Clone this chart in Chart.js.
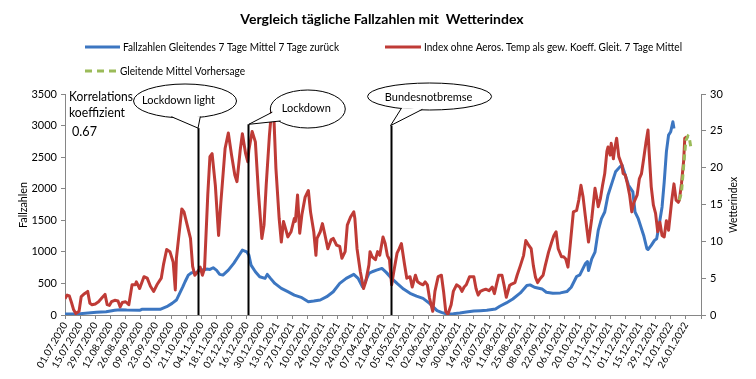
<!DOCTYPE html>
<html><head><meta charset="utf-8">
<script src="https://cdn.jsdelivr.net/npm/chart.js@4.4.1/dist/chart.umd.min.js"></script>
<style>html,body{margin:0;padding:0;background:#fff}#wrap{width:756px;height:379px;position:relative}</style>
</head><body><div id="wrap"><canvas id="c"></canvas></div>
<script>
const chartTitle = 'Vergleich tägliche Fallzahlen mit  Wetterindex';
const seriesNames = ['Fallzahlen Gleitendes 7 Tage Mittel 7 Tage zurück', 'Index ohne Aeros. Temp als gew. Koeff. Gleit. 7 Tage Mittel', 'Gleitende Mittel Vorhersage'];
const tickLabels = ['01.07.2020','15.07.2020','29.07.2020','12.08.2020','26.08.2020','09.09.2020','23.09.2020','07.10.2020','21.10.2020','04.11.2020','18.11.2020','02.12.2020','16.12.2020','30.12.2020','13.01.2021','27.01.2021','10.02.2021','24.02.2021','10.03.2021','24.03.2021','07.04.2021','21.04.2021','05.05.2021','19.05.2021','02.06.2021','16.06.2021','30.06.2021','14.07.2021','28.07.2021','11.08.2021','25.08.2021','08.09.2021','22.09.2021','06.10.2021','20.10.2021','03.11.2021','17.11.2021','01.12.2021','15.12.2021','29.12.2021','12.01.2022','26.01.2022'];
const totalDays = 588;

// Blue: Fallzahlen (left axis), x = days since 01.07.2020
const caseDays = [0,14,29,38,46,51,57,69,71,88,94,99,103,106,109,111,114,117,122,125,128,131,134,137,140,143,146,151,156,160,164,168,170,172,176,180,185,187,190,194,200,206,212,219,225,230,236,242,248,254,260,267,271,275,277,281,284,288,293,297,302,307,313,319,325,331,337,344,348,353,359,365,371,378,384,390,398,402,408,414,421,427,430,434,441,445,451,458,464,468,473,476,481,483,484,487,490,493,496,499,502,506,509,513,515,518,521,525,527,530,535,538,539,542,545,547,549,552,554,556,558,560,562,563];
const caseValues = [16,21,42,53,74,84,79,74,90,90,132,184,237,343,448,527,632,669,675,727,711,727,722,748,711,643,632,711,817,922,1028,1001,949,790,685,606,580,643,580,500,421,369,316,274,211,221,237,290,369,500,580,643,580,448,500,659,685,711,738,675,580,500,411,343,300,264,184,69,42,16,21,32,47,63,69,74,95,138,191,254,350,466,477,440,413,360,344,350,371,440,609,636,810,847,704,890,996,1340,1525,1631,1896,2108,2267,2346,2373,2214,2055,1949,1631,1525,1260,1049,1038,1102,1181,1207,1393,1711,2108,2584,2849,2902,3061,2955];

// Red: Wetterindex (right axis)
const indexDays = [0,2,4,6,8,10,13,15,18,21,23,25,28,31,34,37,39,41,43,46,49,51,53,56,59,62,65,66,69,73,76,79,82,85,89,91,94,97,100,102,103,105,108,110,113,116,118,120,123,125,127,129,132,134,136,139,142,144,148,151,154,157,159,162,164,167,169,170,173,176,179,182,184,186,189,191,193,195,198,200,202,204,206,209,212,213,215,217,219,222,225,227,230,232,233,236,238,240,243,246,248,251,254,256,259,261,264,267,268,270,273,276,278,281,282,284,287,289,291,294,296,298,300,302,304,307,309,311,314,316,319,321,324,326,328,331,333,335,337,340,342,345,348,350,352,354,357,359,362,365,367,369,371,374,378,380,382,384,387,389,392,395,397,399,401,404,406,408,411,413,416,418,421,424,426,429,431,433,435,437,439,442,444,446,447,450,452,454,456,459,461,463,465,467,470,473,475,477,479,481,484,487,490,492,493,495,497,499,501,502,504,505,507,508,510,512,515,516,518,520,522,524,526,529,531,533,535,537,539,540,542,544,546,548,550,552,554,556,558,561,563,565,567,568,570,572,573,575];
const indexValues = [2.2,2.7,2.6,1.7,0.7,0.2,0.5,2.5,2.9,3.2,1.6,1.4,1.5,1.8,2.3,2.8,1.4,1.3,1.8,2.0,1.9,1.1,1.7,1.8,1.4,4.1,4.1,4.5,3.6,5.2,5.0,3.9,3.2,4.1,5.0,6.8,8.9,8.6,7.2,3.4,7.7,10.4,14.4,14.0,12.2,10.4,6.6,5.4,5.9,6.5,5.4,6.3,16.3,21.5,21.9,17.6,10.8,15.1,22.6,24.7,21.7,19.0,18.1,22.4,24.6,21.9,20.8,22.4,24.9,23.5,16.3,10.4,12.2,17.6,24.4,27.8,27.3,19.9,13.1,9.9,12.7,11.7,10.6,11.3,13.1,12.7,16.3,11.1,13.6,16.0,16.9,14.0,11.3,8.1,10.4,11.3,12.4,11.1,9.0,10.2,10.4,9.5,9.3,7.7,8.6,12.2,13.3,14.0,13.1,9.0,5.9,3.6,4.5,6.8,8.6,7.9,7.5,8.6,8.1,10.6,9.7,8.1,7.5,4.1,5.9,8.4,9.0,9.7,6.8,5.0,5.2,3.8,5.4,4.5,4.3,4.1,4.5,4.1,2.3,0.5,3.2,5.2,5.4,3.2,0.5,0.1,1.4,3.2,4.1,3.8,3.2,3.8,4.1,5.2,5.2,3.6,2.7,3.2,3.4,3.5,3.3,3.8,2.9,4.2,5.4,5.4,4.0,2.4,4.0,4.2,4.4,5.4,6.7,8.1,10.1,9.4,9.0,6.7,5.1,4.4,4.9,5.4,6.7,7.9,8.5,9.9,10.8,11.3,9.0,7.9,7.9,7.6,6.5,9.4,14.0,14.2,15.6,17.6,16.0,13.5,9.9,13.1,17.2,15.6,14.7,15.8,17.6,19.2,22.2,22.8,21.7,23.3,21.2,22.4,24.0,21.5,20.3,19.2,19.0,17.8,16.3,14.0,15.3,16.3,18.5,19.2,21.2,23.3,25.1,22.2,17.4,14.9,13.8,11.3,12.6,10.8,10.6,12.8,11.5,15.6,17.8,15.6,15.3,15.6,17.9,21.0,24.0,24.2];

// Green dashed: forecast (right axis)
const forecastDays = [568,570,572,574,576,577,579];
const forecastValues = [15.6,16.7,20.3,23.7,24.3,24.2,22.4];

// Event markers
const eventNames = ['Lockdown light','Lockdown','Bundesnotbremse'];
const eventDays = [123,169,301];
const eventTops = [2960,3020,3000];
const correlationLabel = ['Korrelations','koeffizient'];
const correlationValue = '0.67';

const BLUE = '#3C76C1', RED = '#BF3B36', GREEN = '#9BBB59', AXIS = '#868686';
Chart.defaults.font.family = 'Lato, "Open Sans", sans-serif';
Chart.defaults.color = '#000';

const toPts = (xs, ys) => xs.map((d, i) => ({x: d, y: ys[i]}));

const annot = {
  id: 'annot',
  afterDatasetsDraw(chart) {
    const {ctx, chartArea, scales: {x, y}} = chart;
    ctx.save();
    // event lines
    ctx.strokeStyle = '#000'; ctx.lineWidth = 2;
    eventDays.forEach((d, i) => {
      const px = Math.round(x.getPixelForValue(d)) + 0.5;
      ctx.beginPath(); ctx.moveTo(px, y.getPixelForValue(eventTops[i])); ctx.lineTo(px, chartArea.bottom); ctx.stroke();
    });
    // callouts
    const callout = (cx, cy, rx, ry, a1, a2, tip, text, tx, ty) => {
      const p = a => ({x: cx + rx * 0.96 * Math.cos(a * Math.PI / 180), y: cy + ry * 0.96 * Math.sin(a * Math.PI / 180)});
      const b1 = p(a1), b2 = p(a2);
      ctx.lineWidth = 1; ctx.strokeStyle = '#000'; ctx.fillStyle = '#fff';
      ctx.beginPath(); ctx.ellipse(cx, cy, rx, ry, 0, 0, Math.PI * 2); ctx.fill(); ctx.stroke();
      ctx.beginPath(); ctx.moveTo(b1.x, b1.y); ctx.lineTo(tip.x, tip.y); ctx.lineTo(b2.x, b2.y); ctx.closePath(); ctx.fill();
      ctx.beginPath(); ctx.moveTo(b1.x, b1.y); ctx.lineTo(tip.x, tip.y); ctx.lineTo(b2.x, b2.y); ctx.stroke();
      ctx.fillStyle = '#000'; ctx.font = '11px Lato'; ctx.textAlign = 'center'; ctx.textBaseline = 'middle';
      ctx.fillText(text, tx, ty);
    };
    const e = eventDays.map(d => x.getPixelForValue(d));
    const t = eventTops.map(v => y.getPixelForValue(v));
    callout(e[0] - 13, 101, 51.5, 17, 106, 72, {x: e[0], y: t[0]}, eventNames[0], e[0] - 19.5, 100.5);
    callout(e[1] + 60, 109, 37.5, 19, 170, 139, {x: e[1] + 1, y: t[1]}, eventNames[1], e[1] + 58.5, 108);
    callout(e[2] + 39, 96.5, 62, 13.5, 118, 97, {x: e[2], y: t[2]}, eventNames[2], e[2] + 38, 97);
    // correlation text
    ctx.fillStyle = '#000'; ctx.textAlign = 'left'; ctx.textBaseline = 'middle';
    ctx.font = '13px Lato';
    ctx.fillText(correlationLabel[0], chartArea.left + 4, 97, 64);
    ctx.fillText(correlationLabel[1], chartArea.left + 4, 113, 56);
    ctx.font = '14px Lato';
    ctx.fillText(correlationValue, chartArea.left + 7, 131, 25);
    ctx.restore();
  },
  afterDraw(chart) {
    const {ctx} = chart;
    ctx.save();
    ctx.fillStyle = '#000'; ctx.textBaseline = 'middle';
    ctx.font = 'bold 14px Lato'; ctx.textAlign = 'center';
    ctx.fillText(chartTitle, 382, 19, 308);
    // legend
    ctx.lineWidth = 3; ctx.lineCap = 'butt';
    const item = (x0, x1, yy, col, dash, text, tw) => {
      ctx.strokeStyle = col; ctx.setLineDash(dash);
      ctx.beginPath(); ctx.moveTo(x0, yy); ctx.lineTo(x1, yy); ctx.stroke();
      ctx.setLineDash([]);
      ctx.font = '11px Lato'; ctx.textAlign = 'left'; ctx.fillStyle = '#000';
      ctx.fillText(text, x1 + 3, yy, tw);
    };
    item(85, 120, 47, BLUE, [], seriesNames[0], 216);
    item(385, 421, 47, RED, [], seriesNames[1], 258);
    item(85, 117, 71, GREEN, [7, 5], seriesNames[2], 125);
    // axis titles
    ctx.font = '12px Lato'; ctx.textAlign = 'center';
    ctx.save(); ctx.translate(23, 205); ctx.rotate(-Math.PI / 2); ctx.fillText('Fallzahlen', 0, 0, 46); ctx.restore();
    ctx.save(); ctx.translate(733, 205); ctx.rotate(-Math.PI / 2); ctx.fillText('Wetterindex', 0, 0, 56); ctx.restore();
    ctx.restore();
  }
};

new Chart(document.getElementById('c'), {
  type: 'line',
  data: {
    datasets: [
      {label: seriesNames[2], data: toPts(forecastDays, forecastValues), yAxisID: 'y1', borderColor: GREEN, borderWidth: 3, borderDash: [6, 4], pointRadius: 0, tension: 0, order: 1},
      {label: seriesNames[1], data: toPts(indexDays, indexValues), yAxisID: 'y1', borderColor: RED, borderWidth: 3, pointRadius: 0, tension: 0, borderJoinStyle: 'round', order: 2},
      {label: seriesNames[0], data: toPts(caseDays, caseValues), yAxisID: 'y', borderColor: BLUE, borderWidth: 3, pointRadius: 0, tension: 0, borderJoinStyle: 'round', order: 3}
    ]
  },
  options: {
    responsive: true, maintainAspectRatio: false, animation: false, devicePixelRatio: 1,
    layout: {padding: {top: 94, left: 0, right: 0, bottom: 0}},
    plugins: {legend: {display: false}, tooltip: {enabled: false}, title: {display: false}},
    scales: {
      x: {
        type: 'linear', min: 0, max: totalDays,
        afterBuildTicks: s => { s.ticks = tickLabels.map((_, i) => ({value: i * 14})).concat([{value: totalDays}]); },
        afterFit: s => { s.height = 64; },
        ticks: {autoSkip: false, minRotation: 60, maxRotation: 60, padding: 1, font: {size: 10}, color: '#000',
          callback: (v, i) => tickLabels[i] || ''},
        grid: {drawOnChartArea: false, drawTicks: true, tickLength: 4, color: AXIS},
        border: {color: AXIS, width: 1}
      },
      y: {
        position: 'left', min: 0, max: 3500,
        afterFit: s => { s.width = 65; },
        ticks: {stepSize: 500, padding: 4, font: {size: 11}, color: '#000', callback: v => String(v)},
        grid: {drawOnChartArea: false, drawTicks: true, tickLength: 4, color: AXIS},
        border: {color: AXIS, width: 1}
      },
      y1: {
        position: 'right', min: 0, max: 30,
        afterFit: s => { s.width = 55; },
        ticks: {stepSize: 5, padding: 4, font: {size: 11}, color: '#000', callback: v => String(v)},
        grid: {drawOnChartArea: false, drawTicks: true, tickLength: 5, color: AXIS},
        border: {color: AXIS, width: 1}
      }
    }
  },
  plugins: [annot]
});
</script></body></html>
